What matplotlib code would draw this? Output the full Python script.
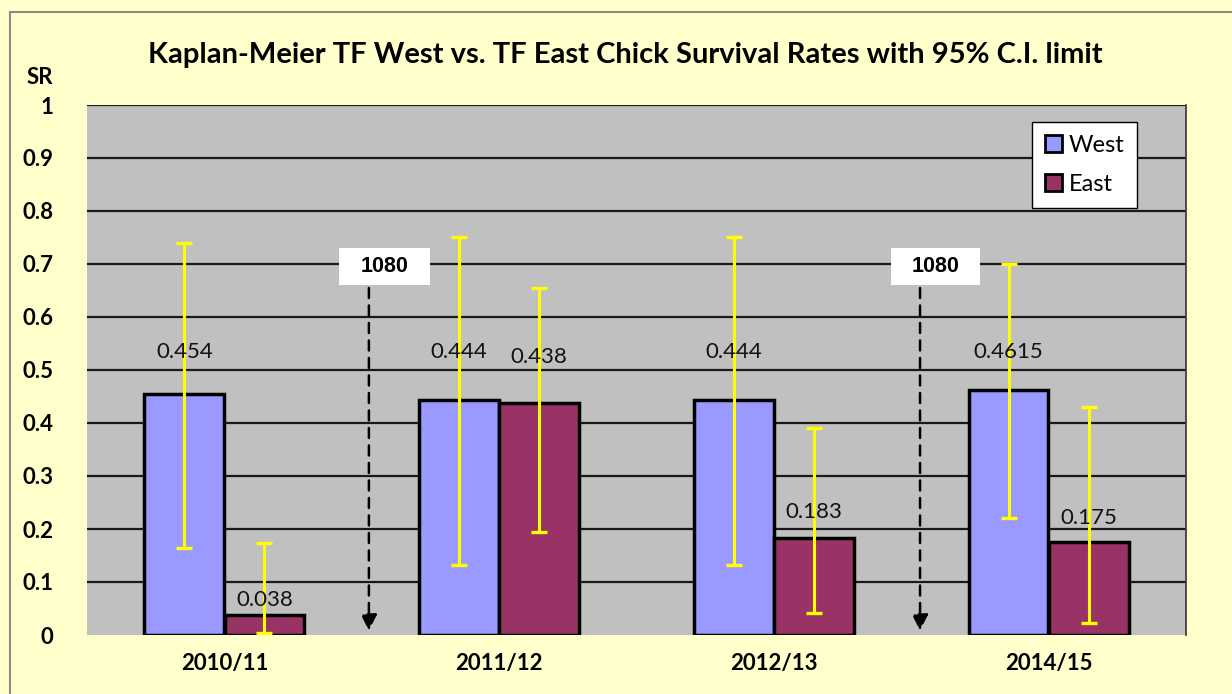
import matplotlib
matplotlib.use("Agg")
import matplotlib.pyplot as plt
from matplotlib.patches import Rectangle, Patch
import numpy as np

categories = ["2010/11", "2011/12", "2012/13", "2014/15"]
west = [0.454, 0.444, 0.444, 0.4615]
east = [0.038, 0.438, 0.183, 0.175]
west_lo = [0.164, 0.132, 0.132, 0.220]
west_hi = [0.740, 0.751, 0.751, 0.700]
east_lo = [0.004, 0.194, 0.041, 0.023]
east_hi = [0.174, 0.655, 0.390, 0.430]
west_labels = ["0.454", "0.444", "0.444", "0.4615"]
east_labels = ["0.038", "0.438", "0.183", "0.175"]
yticks = [0, 0.1, 0.2, 0.3, 0.4, 0.5, 0.6, 0.7, 0.8, 0.9, 1]
ytick_labels = ["0", "0.1", "0.2", "0.3", "0.4", "0.5", "0.6", "0.7", "0.8", "0.9", "1"]
marker_text = "1080"

# layout (label heights as placed in the original)
west_label_y = [0.534, 0.534, 0.534, 0.534]
east_label_y = [0.066, 0.525, 0.232, 0.221]
marker_x = [0.526, 2.532]
marker_box = [(0.417, 0.748), (2.426, 2.750)]

plt.rcParams['font.family'] = ['Lato', 'DejaVu Sans']

fig = plt.figure(figsize=(12.32, 6.94), dpi=100)
fig.patch.set_facecolor('#FFFFCC')
fig.patches.append(Rectangle((10/1232, -0.05), 1.1, 1 - 12/694 + 0.05,
                             transform=fig.transFigure, facecolor='none',
                             edgecolor='#8C8C8C', linewidth=1.5))

ax = fig.add_axes([87/1232, 1 - 635/694, (1186 - 87)/1232, (635 - 105)/694])
ax.set_facecolor('#C0C0C0')
ax.set_xlim(-0.5, 3.5)
ax.set_ylim(0, 1)

x = np.arange(len(categories))
w = 0.291
off = 0.146

for yv in yticks[1:]:
    ax.axhline(yv, color='#1a1a1a', linewidth=1.6, zorder=1)

ax.bar(x - off, west, width=w, color='#9999FF', edgecolor='black', linewidth=2.5, zorder=2, label='West')
ax.bar(x + off, east, width=w, color='#993366', edgecolor='black', linewidth=2.5, zorder=2, label='East')

wv = np.array(west); ev = np.array(east)
ax.errorbar(x - off, wv, yerr=[wv - np.array(west_lo), np.array(west_hi) - wv], fmt='none',
            ecolor='#FFFF00', elinewidth=2.2, capsize=6, capthick=2.4, zorder=3)
ax.errorbar(x + off, ev, yerr=[ev - np.array(east_lo), np.array(east_hi) - ev], fmt='none',
            ecolor='#FFFF00', elinewidth=2.2, capsize=6, capthick=2.4, zorder=3)

for i in range(len(categories)):
    ax.text(x[i] - off, west_label_y[i], west_labels[i], ha='center', va='center',
            fontsize=16, color='#111111', zorder=4)
    ax.text(x[i] + off, east_label_y[i], east_labels[i], ha='center', va='center',
            fontsize=16, color='#111111', zorder=4)

for mx, (b0, b1) in zip(marker_x, marker_box):
    ax.annotate('', xy=(mx, 0.003), xytext=(mx, 0.660),
                arrowprops=dict(arrowstyle='-|>', linestyle=(0, (4, 3)), color='black',
                                linewidth=1.8, mutation_scale=24), zorder=4)
    ax.add_patch(Rectangle((b0, 0.660), b1 - b0, 0.070, facecolor='white', edgecolor='none', zorder=5))
    ax.text((b0 + b1) / 2, 0.695, marker_text, ha='center', va='center', fontsize=15.5, fontweight='bold',
            family=['Liberation Sans', 'DejaVu Sans'], zorder=6)

for s in ['left', 'bottom', 'top']:
    ax.spines[s].set_visible(False)
ax.spines['right'].set_color('#333333')
ax.spines['right'].set_linewidth(1.2)

ax.set_xticks(x)
ax.set_xticklabels(categories, fontsize=16, fontweight='bold')
ax.set_yticks(yticks)
ax.set_yticklabels(ytick_labels, fontsize=16, fontweight='bold')
ax.tick_params(length=0)
ax.tick_params(axis='x', pad=13)
ax.tick_params(axis='y', pad=24)

leg = ax.legend(handles=[Patch(facecolor='#9999FF', edgecolor='black', linewidth=2, label='West'),
                         Patch(facecolor='#993366', edgecolor='black', linewidth=2, label='East')],
                loc='upper left', bbox_to_anchor=((1032 - 87)/1099, 1 - (122 - 105)/530),
                fancybox=False, framealpha=1, edgecolor='black', fontsize=17,
                handlelength=0.7, handleheight=0.7, handletextpad=0.3, borderpad=0.55,
                labelspacing=0.75, borderaxespad=0)
leg.get_frame().set_linewidth(1.0)
leg.set_zorder(7)

fig.text(625/1232, 1 - 55/694,
         "Kaplan-Meier TF West vs. TF East Chick Survival Rates with 95% C.I. limit",
         ha='center', va='center', fontsize=21, fontweight='bold')
fig.text(40/1232, 1 - 77/694, "SR", ha='center', va='center', fontsize=16, fontweight='bold')

fig.savefig('out.png', dpi=100, facecolor=fig.get_facecolor())
